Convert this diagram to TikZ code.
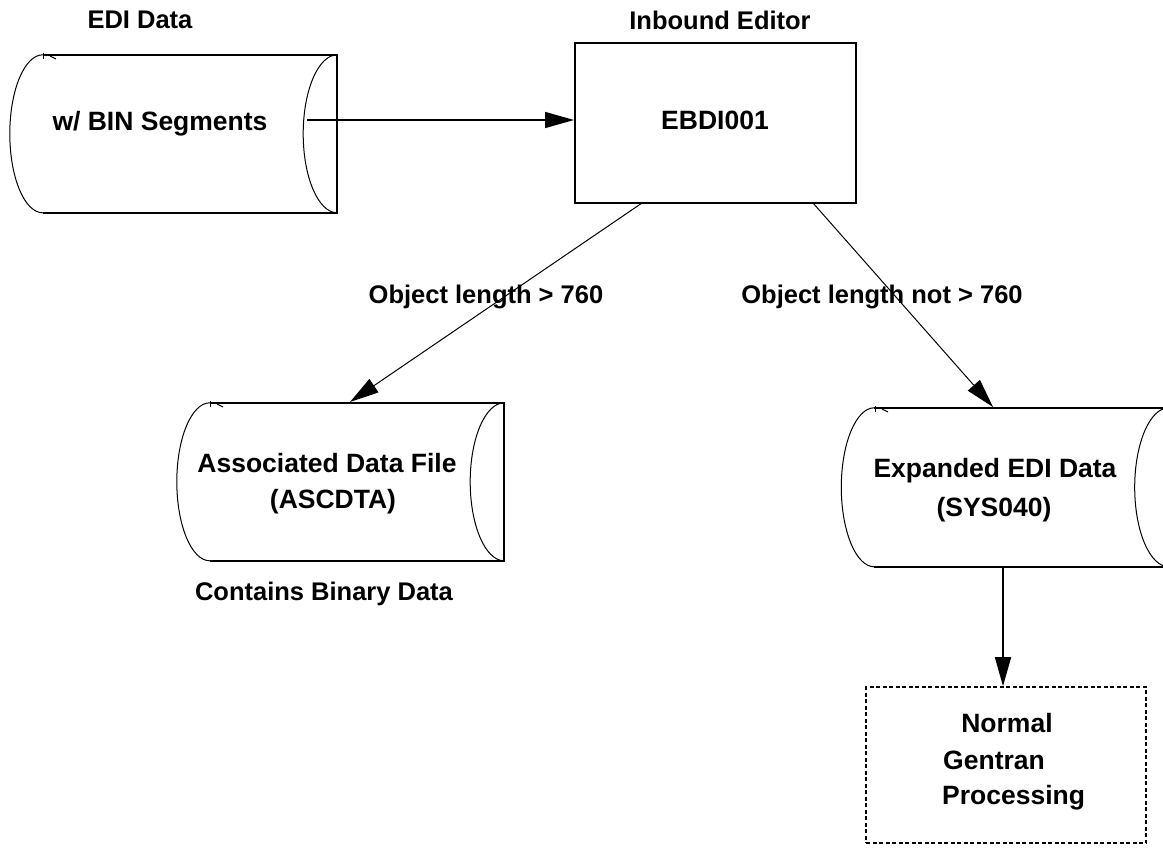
\documentclass[tikz,border=0pt]{standalone}
\usepackage{fontspec}
\setmainfont{Liberation Sans}
\usetikzlibrary{arrows.meta}
\begin{document}
\begin{tikzpicture}[x=1pt,y=-1pt,
  lbl/.style={inner sep=0pt,anchor=base,font=\fontsize{25.5}{30}\selectfont\bfseries},
  inlbl/.style={inner sep=0pt,anchor=base,font=\fontsize{26.5}{31}\selectfont\bfseries},
  edge/.style={line width=1.6pt},
  thin/.style={line width=1pt},
  arr/.style={-{Triangle[length=29pt,width=16pt]},line width=1.6pt},
  darr/.style={-{Triangle[length=29pt,width=16pt]},line width=1pt},
  procbox/.style={draw,line width=2pt,minimum width=281pt,minimum height=160pt,inner sep=0pt},
  dbox/.style={draw,line width=1.6pt,dash pattern=on 4pt off 2.5pt,minimum width=280pt,minimum height=156pt,inner sep=0pt},
  body/.style={inner sep=0pt,minimum width=294pt,minimum height=158pt}
]
\useasboundingbox (0,0) rectangle (1163,848);

% --- cylinder 1 ---
\node[body] (c1) at (190,134) {};
\draw[edge] (c1.north west) -- (c1.north east) -- (c1.south east) -- (c1.south west);
\draw[thin] (c1.north west) arc[start angle=90,end angle=270,x radius=33pt,y radius=79pt];
\draw[thin] (c1.north east) arc[start angle=90,end angle=270,x radius=34pt,y radius=79pt];
\draw[thin] (43,53) -- (43,59);
\draw[thin] (50,56) -- (56,59);

% --- cylinder 2 ---
\node[body] (c2) at (357,482) {};
\draw[edge] (c2.north west) -- (c2.north east) -- (c2.south east) -- (c2.south west);
\draw[thin] (c2.north west) arc[start angle=90,end angle=270,x radius=33pt,y radius=79pt];
\draw[thin] (c2.north east) arc[start angle=90,end angle=270,x radius=34pt,y radius=79pt];
\draw[thin] (210,401) -- (210,407);
\draw[thin] (217,404) -- (223,407);

% --- cylinder 3 ---
\node[body,minimum height=159pt] (c3) at (1021.5,487.5) {};
\draw[edge] (c3.north west) -- (c3.north east) -- (c3.south east) -- (c3.south west);
\draw[thin] (c3.north west) arc[start angle=90,end angle=270,x radius=33pt,y radius=79.5pt];
\draw[thin] (c3.north east) arc[start angle=90,end angle=270,x radius=34pt,y radius=79.5pt];
\draw[thin] (875,406) -- (875,412);
\draw[thin] (882,409) -- (888,412);

% --- process box and dashed box ---
\node[procbox] (ebdi) at (715.5,123) {};
\node[dbox] (ngp) at (1006,765) {};

% --- texts ---
\node[lbl] (t1) at (140,29) {EDI Data};
\node[lbl] (t2) at (720,30) {Inbound Editor};
\node[inlbl] (t3) at (160,131) {w/ BIN Segments};
\node[inlbl] (t4) at (715,130) {EBDI001};
\node[lbl] (t5) at (486,303) {Object length > 760};
\node[lbl] (t6) at (882,303) {Object length not > 760};
\node[inlbl] (t7) at (327,472) {Associated Data File};
\node[inlbl] (t8) at (333,508) {(ASCDTA)};
\node[lbl] (t9) at (324,600) {Contains Binary Data};
\node[inlbl] (t10) at (995,477) {Expanded EDI Data};
\node[inlbl] (t11) at (994,516) {(SYS040)};
\node[inlbl] (t12) at (1007,732) {Normal};
\node[inlbl,anchor=base west] (t13) at (943,769) {Gentran};
\node[inlbl,anchor=base west] (t14) at (942,804) {Processing};

% --- connectors ---
\coordinate (c1out) at (307,120);
\coordinate (eL) at (642,203);
\coordinate (eR) at (813,203);
\coordinate (c2in) at (350,402);
\coordinate (c3in) at (993,407);
\coordinate (c3out) at (1003,567);
\draw[arr] (c1out) -- (ebdi.west |- c1out);
\draw[darr] (eL) -- (c2in);
\draw[darr] (eR) -- (c3in);
\draw[arr] (c3out) -- (c3out |- ngp.north);
\end{tikzpicture}
\end{document}
